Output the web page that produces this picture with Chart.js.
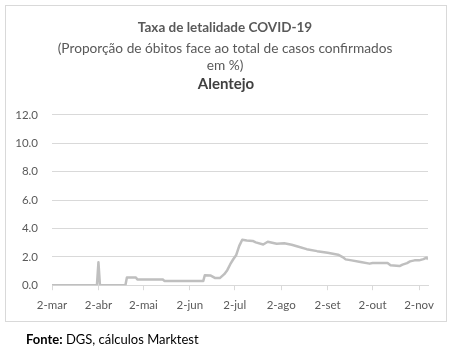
<!DOCTYPE html>
<html>
<head>
<meta charset="utf-8">
<script src="https://cdn.jsdelivr.net/npm/chart.js@4"></script>
<style>
  html, body { margin: 0; padding: 0; background: #ffffff; }
  #wrap { position: relative; width: 453px; height: 355px; overflow: hidden; background: #fff; }
  #frame { position: absolute; left: 5px; top: 5px; width: 440px; height: 315px; border: 1px solid #d9d9d9; box-sizing: content-box; }
  #cv { position: absolute; left: 0; top: 0; }
  #src { position: absolute; left: 26px; top: 331px; font-family: Lato, "Open Sans", sans-serif; font-size: 13px; color: #000; white-space: nowrap; }
</style>
</head>
<body>
<div id="wrap">
  <div id="frame"></div>
  <canvas id="cv" width="453" height="355"></canvas>
  <div id="src"><b>Fonte:</b> DGS, cálculos Marktest</div>
</div>
<script>
// ---- data (day index counted from 2-mar, lethality rate %) ----
const tickDays   = [0, 31, 61, 92, 122, 153, 184, 214, 245];
const tickLabels = ['2-mar', '2-abr', '2-mai', '2-jun', '2-jul', '2-ago', '2-set', '2-out', '2-nov'];
const days  = [0, 30, 31, 32, 49, 50, 56, 57, 74, 75, 101, 102, 106, 109, 112, 115, 117, 119, 121, 123, 125, 127, 130, 134, 136, 141, 144, 150, 155, 160, 164, 170, 177, 184, 191, 194, 196, 200, 206, 212, 214, 224, 226, 232, 234, 237, 239, 242, 245, 248, 250, 251];
const rates = [0, 0, 1.62, 0, 0, 0.54, 0.54, 0.40, 0.40, 0.30, 0.30, 0.70, 0.68, 0.50, 0.50, 0.78, 1.06, 1.48, 1.83, 2.13, 2.77, 3.20, 3.15, 3.12, 3.02, 2.87, 3.06, 2.92, 2.96, 2.85, 2.73, 2.54, 2.40, 2.29, 2.15, 1.98, 1.82, 1.75, 1.63, 1.52, 1.56, 1.56, 1.40, 1.35, 1.45, 1.56, 1.68, 1.75, 1.75, 1.84, 1.94, 1.82];
const titleText    = 'Taxa de letalidade COVID-19';
const subtitleText = ['(Proporção de óbitos face ao total de casos confirmados', 'em %)'];
const regionText   = 'Alentejo';

const FONT = 'Lato, "Open Sans", sans-serif';
const points = days.map((d, i) => ({ x: d, y: rates[i] }));

// centre the title blocks on the frame rather than on the padded canvas
const titleShift = {
  id: 'titleShift',
  afterLayout(chart) {
    chart.boxes.forEach(b => {
      if (b.position === 'top' && b.fullSize) { b.left = 22; }
    });
  }
};

const regionLabel = {
  id: 'regionLabel',
  afterDraw(chart) {
    const ctx = chart.ctx;
    ctx.save();
    ctx.font = 'bold 15px ' + FONT;
    ctx.fillStyle = '#404040';
    ctx.textAlign = 'center';
    ctx.textBaseline = 'middle';
    ctx.fillText(regionText, 226, 84);
    ctx.restore();
  }
};

new Chart(document.getElementById('cv'), {
  type: 'line',
  data: {
    datasets: [{
      data: points,
      borderColor: '#bfbfbf',
      borderWidth: 2.5,
      pointRadius: 0,
      tension: 0,
      fill: false,
      borderJoinStyle: 'round'
    }]
  },
  options: {
    responsive: false,
    devicePixelRatio: 1,
    animation: false,
    layout: { padding: { top: 20, left: 0, right: 25, bottom: 35 } },
    plugins: {
      legend: { display: false },
      tooltip: { enabled: false },
      title: {
        display: true,
        text: titleText,
        color: '#595959',
        font: { family: FONT, size: 13.5, weight: 'bold', lineHeight: 1.2 },
        padding: { top: 0, bottom: 2 }
      },
      subtitle: {
        display: true,
        text: subtitleText,
        color: '#595959',
        font: { family: FONT, size: 13.7, weight: 'normal', lineHeight: 1.23 },
        padding: { top: 2, bottom: 41 }
      }
    },
    scales: {
      x: {
        type: 'linear',
        min: 0,
        max: 251,
        afterBuildTicks: (scale) => { scale.ticks = tickDays.map(v => ({ value: v })); },
        ticks: {
          autoSkip: false,
          maxRotation: 0,
          color: '#595959',
          font: { family: FONT, size: 11.5 },
          padding: 8,
          callback: (value) => tickLabels[tickDays.indexOf(value)]
        },
        grid: { drawOnChartArea: false, drawTicks: true, tickLength: 5, color: '#d9d9d9' },
        border: { display: true, color: '#d9d9d9', width: 1 }
      },
      y: {
        min: 0,
        max: 12,
        afterFit: (scale) => { scale.width = 52; },
        ticks: {
          stepSize: 2,
          color: '#595959',
          font: { family: FONT, size: 11.5 },
          padding: 14,
          callback: (value) => Number(value).toFixed(1)
        },
        grid: { color: '#d9d9d9', lineWidth: 1, drawTicks: false },
        border: { display: false }
      }
    }
  },
  plugins: [titleShift, regionLabel]
});
</script>
</body>
</html>
